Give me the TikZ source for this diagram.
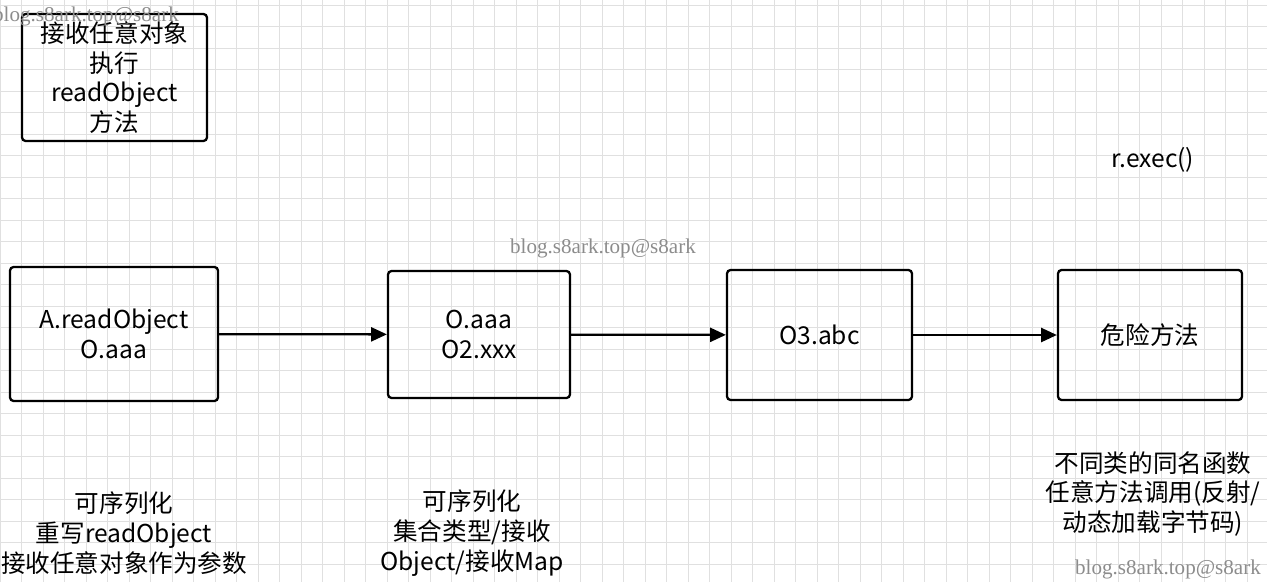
\documentclass[tikz,border=0pt]{standalone}
\usepackage{fontspec}
\setmainfont{Noto Sans CJK SC}
\newfontfamily\wmfont{Liberation Serif}
\usetikzlibrary{positioning,arrows.meta}
\begin{document}
\begin{tikzpicture}[x=0.02cm,y=-0.02cm,
  every node/.style={font=\fontsize{14}{17}\selectfont},
  box/.style={draw, line width=1.3pt, rounded corners=2pt, align=center, inner sep=0pt},
  lbl/.style={align=center},
  wm/.style={text=black!45, inner sep=0pt, font=\wmfont\fontsize{12}{14}\selectfont},
  link/.style={-{Triangle[length=9pt,width=8pt]}, line width=1.3pt}]
  \useasboundingbox (0,0) rectangle (1267,582);
  % grid paper
  \foreach \gx in {0,21.5,...,1267} \draw[black!12] (\gx,0) -- (\gx,582);
  \foreach \gy in {5,26.5,...,582} \draw[black!12] (0,\gy) -- (1267,\gy);

  % boxes
  \node[box, minimum width=3.7cm, minimum height=2.54cm] (entry) at (114.5,77.5) {接收任意对象\\执行\\readObject\\方法};
  \node[box, minimum width=4.16cm, minimum height=2.68cm] (src) at (114,334) {A.readObject\\O.aaa};
  \node[box, minimum width=3.64cm, minimum height=2.54cm] (mid) at (479,334.5) {O.aaa\\O2.xxx};
  \node[box, minimum width=3.7cm, minimum height=2.6cm] (hop) at (819.5,335) {O3.abc};
  \node[box, minimum width=3.68cm, minimum height=2.6cm] (sink) at (1150,335) {危险方法};

  % links
  \draw[link] (src) -- (mid);
  \draw[link] (mid) -- (hop);
  \draw[link] (hop) -- (sink);

  % notes
  \node[lbl] (call) at (1153,160) {r.exec()};
  \node[lbl] (srcnote) at (124,533) {可序列化\\重写readObject\\接收任意对象作为参数};
  \node[lbl] (midnote) at (472,533) {可序列化\\集合类型/接收\\Object/接收Map};
  \node[lbl] (sinknote) at (1153,494) {不同类的同名函数\\任意方法调用(反射/\\动态加载字节码)};

  % watermarks
  \node[wm] (wma) at (86,16) {blog.s8ark.top@s8ark};
  \node[wm] (wmb) at (603,248) {blog.s8ark.top@s8ark};
  \node[wm] (wmc) at (1168,569) {blog.s8ark.top@s8ark};
\end{tikzpicture}
\end{document}
